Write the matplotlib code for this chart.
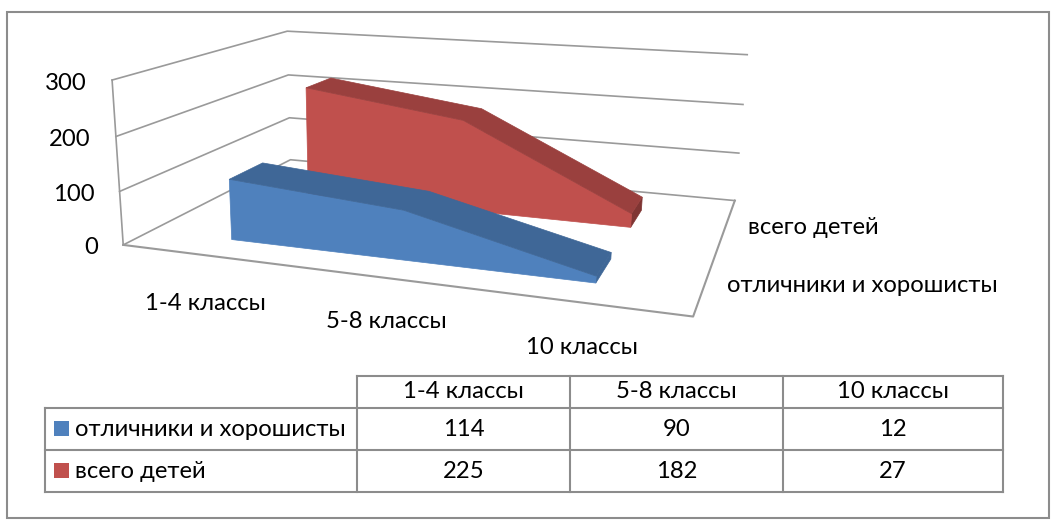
import numpy as np
from matplotlib import pyplot as plt
from matplotlib.patches import Polygon, Rectangle

categories = ["1-4 классы", "5-8 классы", "10 классы"]
seriesNames = ["отличники и хорошисты", "всего детей"]
excellent = [114, 90, 12]
allKids = [225, 182, 27]
yTicks = [0, 100, 200, 300]

plt.rcParams['font.family'] = ['Lato', 'Open Sans', 'DejaVu Sans']
W, H = 1056, 528
BORDER = '#8c8c8c'
GRID = '#9a9a9a'
FS = 17.2
blueFace, blueTop = '#4f81bd', '#3f6797'
redFace, redTop, redEnd = '#c0504d', '#9a403e', '#7f3533'

# (x along categories, depth, value) -> pixel, used to fit the perspective of the chart box
calib = [((0, 0, 0), (123, 245)), ((1, 0, 0), (693, 317)), ((1, 1, 0), (735, 200)),
         ((0, 1, 0), (290, 160)), ((0, 0, 300), (111, 80)), ((0, 1, 300), (288, 31)),
         ((1, 1, 300), (747, 55)), ((0, 0, 100), (121, 191)), ((0, 1, 100), (289, 118)),
         ((1, 1, 100), (739, 153))]


def fitCamera(points):
    A, b = [], []
    for (x, d, z), (u, v) in points:
        A.append([x, d, z, 1, 0, 0, 0, 0, -u*x, -u*d, -u*z])
        A.append([0, 0, 0, 0, x, d, z, 1, -v*x, -v*d, -v*z])
        b += [u, v]
    p = np.linalg.lstsq(np.array(A, float), np.array(b, float), rcond=None)[0]
    return np.append(p, 1).reshape(3, 4)


cam = fitCamera(calib)


def project(x, d, z):
    u, v, w = cam @ np.array([x, d, z, 1.0])
    return u/w, v/w


fig = plt.figure(figsize=(W/100, H/100), dpi=100)
ax = fig.add_axes([0, 0, 1, 1])
ax.set_xlim(0, W)
ax.set_ylim(H, 0)
ax.axis('off')

ax.add_patch(Rectangle((7, 12), 1042, 506, fill=False, ec=BORDER, lw=1.5))

# walls and floor
for tick in yTicks:
    ax.plot(*zip(project(0, 0, tick), project(0, 1, tick), project(1, 1, tick)), color=GRID, lw=1.2, zorder=1)
    u, v = project(0, 0, tick)
    ax.text(u-25, v+3, str(tick), ha='right', va='center', fontsize=FS)
ax.plot(*zip(project(0, 0, 0), project(0, 0, 300)), color=GRID, lw=1.2, zorder=1)
ax.plot(*zip(project(0, 0, 0), project(1, 0, 0), project(1, 1, 0)), color=GRID, lw=1.5, zorder=1)


def ribbon(values, d0, d1, face, top, end, z):
    xs = [(i+0.5)/len(values) for i in range(len(values))]
    front = [project(x, d0, v) for x, v in zip(xs, values)]
    base = [project(x, d0, 0) for x in xs]
    back = [project(x, d1, v) for x, v in zip(xs, values)]
    ax.add_patch(Polygon(front + base[::-1], fc=face, ec=face, lw=0.5, zorder=z))
    ax.add_patch(Polygon(front + back[::-1], fc=top, ec=top, lw=0.5, zorder=z))
    endFace = [front[-1], back[-1], project(xs[-1], d1, 0), base[-1]]
    ax.add_patch(Polygon(endFace, fc=end, ec=end, lw=0.5, zorder=z-0.5))


ribbon(allKids, 0.62, 0.8, redFace, redTop, redEnd, 3)
ribbon(excellent, 0.14, 0.33, blueFace, blueTop, blueTop, 5)

# axis labels
catPos = [(205, 303), (386, 322), (582, 348)]
for name, (u, v) in zip(categories, catPos):
    ax.text(u, v, name, ha='center', va='center', fontsize=FS)
ax.text(748, 227, seriesNames[1], ha='left', va='center', fontsize=FS)
ax.text(727, 285, seriesNames[0], ha='left', va='center', fontsize=FS)

# data table
colX = [45, 357, 570, 783, 1003]
rowY = [376, 408, 450, 492]
for x in colX[1:]:
    ax.plot([x, x], [rowY[0], rowY[-1]], color=BORDER, lw=1.5)
ax.plot([colX[0], colX[0]], [rowY[1], rowY[-1]], color=BORDER, lw=1.5)
ax.plot([colX[1], colX[-1]], [rowY[0], rowY[0]], color=BORDER, lw=1.5)
for y in rowY[1:]:
    ax.plot([colX[0], colX[-1]], [y, y], color=BORDER, lw=1.5)

for j, name in enumerate(categories):
    ax.text((colX[j+1]+colX[j+2])/2, (rowY[0]+rowY[1])/2, name, ha='center', va='center', fontsize=FS)
rows = [excellent, allKids]
colors = [blueFace, redFace]
for i, row in enumerate(rows):
    yc = (rowY[i+1]+rowY[i+2])/2
    ax.add_patch(Rectangle((54, yc-8), 15, 15, fc=colors[i], ec='none'))
    ax.text(75, yc, seriesNames[i], ha='left', va='center', fontsize=FS)
    for j, val in enumerate(row):
        ax.text((colX[j+1]+colX[j+2])/2, yc, str(val), ha='center', va='center', fontsize=FS)

fig.savefig('out.png', dpi=100)
